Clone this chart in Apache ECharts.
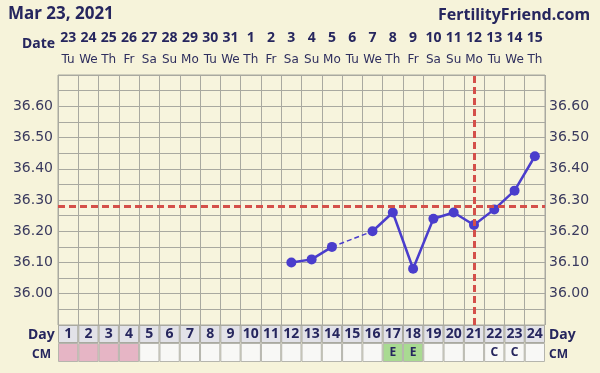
<!DOCTYPE html>
<html><head><meta charset="utf-8">
<script src="https://cdn.jsdelivr.net/npm/echarts@6/dist/echarts.min.js"></script>
<style>html,body{margin:0;padding:0;background:#f6f3da}#c{width:600px;height:373px}</style>
</head><body><div id="c"></div>
<script>
const days = ['1','2','3','4','5','6','7','8','9','10','11','12','13','14','15','16','17','18','19','20','21','22','23','24'];
const dates = ['23','24','25','26','27','28','29','30','31','1','2','3','4','5','6','7','8','9','10','11','12','13','14','15'];
const weekdays = ['Tu','We','Th','Fr','Sa','Su','Mo','Tu','We','Th','Fr','Sa','Su','Mo','Tu','We','Th','Fr','Sa','Su','Mo','Tu','We','Th'];
const temps = [null,null,null,null,null,null,null,null,null,null,null,36.10,36.11,36.15,null,36.20,36.26,36.08,36.24,36.26,36.22,36.27,36.33,36.44];
const gapBridge = [null,null,null,null,null,null,null,null,null,null,null,null,null,36.15,null,36.20,null,null,null,null,null,null,null,null];
const cm = ['M','M','M','M','','','','','','','','','','','','','E','E','','','','C','C',''];
const coverline = 36.278;
const ovulationDay = '21';

const textCol = '#26265e';
const cmColor = {M:'#e6b5c5', E:'#a9da92', C:'#f8f8f6', '':'#f8f8f6'};
const F = 'DejaVu Sans, Verdana, sans-serif';
const N = 'Noto Sans, sans-serif';

const chart = echarts.init(document.getElementById('c'));
const yLab = v => { const r = Math.round(v*100); return (r%10===0 && r>=3600 && r<=3660) ? (r/100).toFixed(2) : ''; };
const cellAxis = (gi) => ({type:'category', gridIndex:gi, data:days, boundaryGap:true,
  axisLine:{show:false}, axisTick:{show:false}, axisLabel:{show:false}, splitLine:{show:false}});
const t = (text, pos, size) => Object.assign({text, padding:0, textStyle:{fontFamily:N, fontWeight:'bold', fontSize:size, color:textCol}}, pos);
chart.setOption({
  backgroundColor:'#f6f3da',
  animation:false,
  title:[
    t('Mar 23, 2021', {left:8, top:6}, 17),
    t('FertilityFriend.com', {right:10, top:7}, 16),
    t('Date', {left:22, top:37}, 14),
    t('Day', {left:28, top:328}, 14),
    t('Day', {left:549, top:328}, 14),
    t('CM', {left:32, top:349}, 12),
    t('CM', {left:549, top:349}, 12)
  ],
  grid:[
    {left:58, right:55, top:75, height:250, show:true, backgroundColor:'#f7f4dd', borderColor:'#a9a9a0', borderWidth:1},
    {left:58, right:55, top:325, height:18},
    {left:58, right:55, top:343, height:19}
  ],
  xAxis:[
    {type:'category', gridIndex:0, data:days, boundaryGap:true, position:'top',
     axisLine:{show:false}, axisTick:{show:false},
     splitLine:{show:true, lineStyle:{color:'#a9a9a0', width:1}},
     axisLabel:{interval:0, margin:5,
       formatter:(v,i)=>'{d|'+dates[i]+'}\n{w|'+weekdays[i]+'}',
       rich:{d:{fontFamily:N, fontWeight:'bold', fontSize:14, color:textCol, lineHeight:21},
             w:{fontFamily:F, fontSize:12, color:'#2e2e5e', lineHeight:21}}}},
    cellAxis(1), cellAxis(2)
  ],
  yAxis:[
    {type:'value', gridIndex:0, min:35.90, max:36.70, interval:0.05,
     axisLine:{show:false}, axisTick:{show:false},
     splitLine:{show:true, lineStyle:{color:'#a9a9a0', width:1}},
     axisLabel:{formatter:yLab, fontFamily:F, fontSize:14, color:'#3a3a5e', margin:5, showMinLabel:true, showMaxLabel:true}},
    {type:'value', gridIndex:0, min:35.90, max:36.70, interval:0.05, position:'right',
     axisLine:{show:false}, axisTick:{show:false}, splitLine:{show:false},
     axisLabel:{formatter:yLab, fontFamily:F, fontSize:14, color:'#3a3a5e', margin:4}},
    {type:'value', gridIndex:1, min:0, max:1, show:false},
    {type:'value', gridIndex:2, min:0, max:1, show:false}
  ],
  series:[
    {type:'line', xAxisIndex:0, yAxisIndex:0, data:gapBridge, connectNulls:true, showSymbol:false, symbol:'none',
     lineStyle:{color:'#4a3dcc', width:1.5, type:[5,3]}, z:3},
    {type:'line', xAxisIndex:0, yAxisIndex:0, data:temps, connectNulls:false, symbol:'circle', symbolSize:10,
     lineStyle:{color:'#4a3dcc', width:2.5}, itemStyle:{color:'#4a3dcc'}, z:4,
     markLine:{silent:true, symbol:'none', label:{show:false},
       lineStyle:{color:'#d4504a', width:3, type:[7,4]},
       data:[{yAxis:coverline}, {xAxis:ovulationDay}]}},
    {type:'bar', xAxisIndex:1, yAxisIndex:2, barWidth:'100%', data:days.map(()=>1),
     itemStyle:{color:'#e2e2e8', borderColor:'#a9a9a0', borderWidth:1},
     label:{show:true, position:'inside', formatter:p=>days[p.dataIndex], fontFamily:N, fontWeight:'bold', fontSize:14, color:textCol}},
    {type:'bar', xAxisIndex:2, yAxisIndex:3, barWidth:'100%',
     data:cm.map(c=>({value:1, itemStyle:{color:cmColor[c]}})),
     itemStyle:{borderColor:'#b5b5ad', borderWidth:1},
     label:{show:true, position:'inside', formatter:p=>{const c=cm[p.dataIndex]; return (c==='E'||c==='C')?c:'';}, fontFamily:N, fontWeight:'bold', fontSize:12, color:textCol}}
  ]
});
</script></body></html>
